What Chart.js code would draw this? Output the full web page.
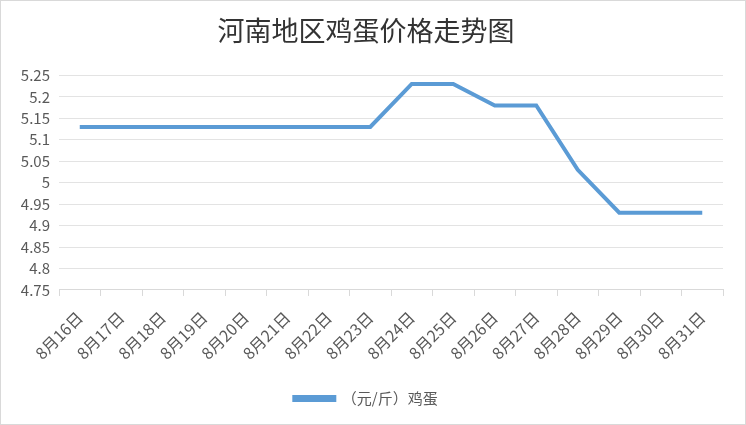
<!DOCTYPE html>
<html><head><meta charset="utf-8">
<script src="https://cdn.jsdelivr.net/npm/chart.js@4"></script>
<style>
html,body{margin:0;padding:0;background:#fff;}
#wrap{position:absolute;left:0;top:0;width:744px;height:423px;border:1px solid #d9d9d9;}
canvas{display:block;}
</style></head><body>
<div id="wrap"><canvas id="c" width="744" height="423"></canvas></div>
<script>
const title = "河南地区鸡蛋价格走势图";
const seriesName = "（元/斤）鸡蛋";
const categories = ["8月16日","8月17日","8月18日","8月19日","8月20日","8月21日","8月22日","8月23日","8月24日","8月25日","8月26日","8月27日","8月28日","8月29日","8月30日","8月31日"];
const prices = [5.13,5.13,5.13,5.13,5.13,5.13,5.13,5.13,5.23,5.23,5.18,5.18,5.03,4.93,4.93,4.93];
const yMin = 4.75, yMax = 5.25, yStep = 0.05;

const FONT = "'Noto Sans CJK SC','Noto Sans',sans-serif";
new Chart(document.getElementById('c'), {
  type: 'line',
  data: { labels: categories, datasets: [{
    label: seriesName, data: prices,
    borderColor: '#5B9BD5', backgroundColor: '#5B9BD5',
    borderWidth: 4, pointRadius: 0, tension: 0, fill: false
  }]},
  options: {
    responsive: false, animation: false,
    layout: { padding: { left: 8, right: 22, top: 6, bottom: 8 } },
    plugins: {
      title: { display: true, text: title, color: '#333333',
        font: { family: FONT, size: 27, weight: 'normal' }, padding: { top: 8, bottom: 28 } },
      legend: { position: 'bottom', labels: { color: '#595959', font: { family: FONT, size: 15 },
        boxWidth: 40, boxHeight: 3, padding: 16 } },
      tooltip: { enabled: false }
    },
    scales: {
      x: {
        offset: true,
        grid: { offset: true, drawOnChartArea: false, drawTicks: true, tickLength: 6, color: '#d9d9d9' },
        border: { display: true, color: '#d9d9d9' },
        ticks: { color: '#595959', font: { family: FONT, size: 16 }, minRotation: 45, maxRotation: 45, autoSkip: false, padding: 12 }
      },
      y: {
        min: yMin, max: yMax,
        afterFit: s => { s.width = 50; },
        grid: { color: '#e3e3e3', drawTicks: false, lineWidth: 1 },
        border: { display: false },
        ticks: { stepSize: yStep, color: '#595959', font: { family: FONT, size: 15 }, padding: 9,
          callback: v => String(parseFloat(Number(v).toFixed(2))) }
      }
    }
  }
});
</script>
</body></html>
